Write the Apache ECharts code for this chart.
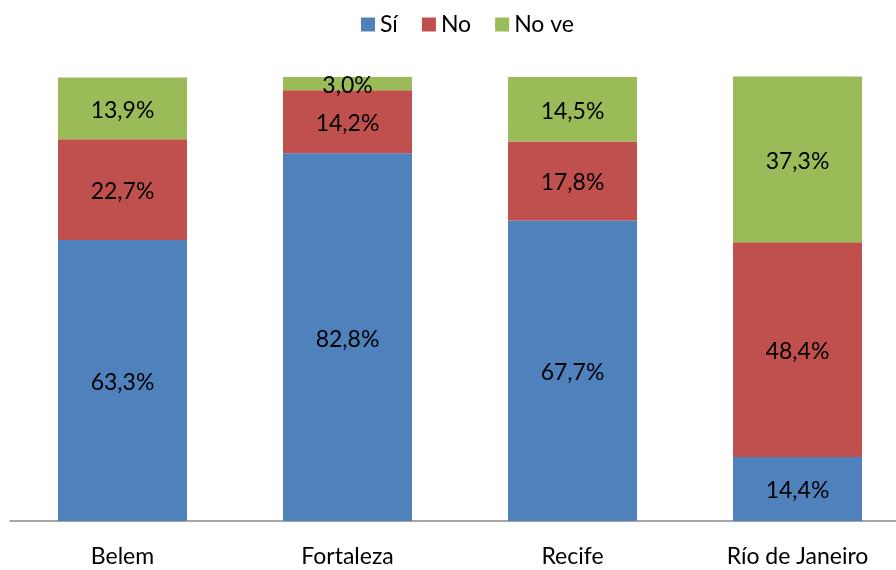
<!DOCTYPE html>
<html>
<head>
<meta charset="utf-8">
<script src="https://cdn.jsdelivr.net/npm/echarts@6/dist/echarts.min.js"></script>
<style>
html, body { margin: 0; padding: 0; background: #fff; }
#main { width: 896px; height: 570px; }
</style>
</head>
<body>
<div id="main"></div>
<script>
var cities = ['Belem', 'Fortaleza', 'Recife', 'Río de Janeiro'];
var si = [63.3, 82.8, 67.7, 14.4];
var no = [22.7, 14.2, 17.8, 48.4];
var noVe = [13.9, 3.0, 14.5, 37.3];

var font = 'Lato';

function pct(p) {
    return p.value.toFixed(1).replace('.', ',') + '%';
}

function serie(name, data, color) {
    return {
        name: name,
        type: 'bar',
        stack: 'total',
        barWidth: 129,
        data: data,
        clip: false,
        itemStyle: { color: color },
        label: {
            show: true,
            position: 'inside',
            offset: [0, 2],
            formatter: pct,
            color: '#000',
            fontFamily: font,
            fontSize: 23
        }
    };
}

var option = {
    animation: false,
    textStyle: { fontFamily: font },
    legend: {
        top: 8,
        left: 356,
        itemWidth: 14,
        itemHeight: 14,
        itemGap: 24,
        icon: 'rect',
        textStyle: { fontSize: 23, color: '#000', fontFamily: font },
        data: ['Sí', 'No', 'No ve']
    },
    grid: { left: 10, right: -14, top: 77, bottom: 49, outerBoundsMode: 'none' },
    xAxis: {
        type: 'category',
        data: cities,
        axisLine: { lineStyle: { color: '#888', width: 1.5 } },
        axisTick: { show: false },
        axisLabel: { color: '#000', fontSize: 23, fontFamily: font, margin: 24 }
    },
    yAxis: {
        type: 'value',
        min: 0,
        max: 100,
        show: false
    },
    series: [
        serie('Sí', si, '#4F81BD'),
        serie('No', no, '#C0504D'),
        serie('No ve', noVe, '#9BBB59')
    ]
};

var myChart = echarts.init(document.getElementById('main'));
myChart.setOption(option);
</script>
</body>
</html>
